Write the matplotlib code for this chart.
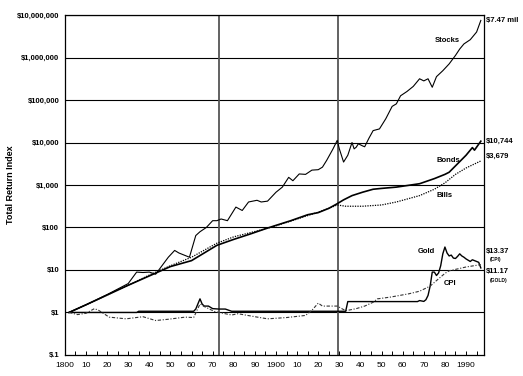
import numpy as np
import matplotlib.pyplot as plt

plt.rcParams['font.family'] = ['Liberation Sans', 'DejaVu Sans']
plt.rcParams['text.parse_math'] = False

# values, as log10 of the index ($1 in 1802)
stock_years = [1802, 1810, 1815, 1820, 1825, 1830, 1834, 1837, 1840, 1843, 1846, 1849,
               1852, 1854, 1857, 1859, 1862, 1864, 1867, 1870, 1872, 1874, 1877, 1881,
               1884, 1887, 1891, 1893, 1896, 1900, 1903, 1906, 1908, 1911, 1914, 1917,
               1920, 1922, 1924, 1927, 1929, 1930, 1932, 1934, 1936, 1937, 1938, 1939,
               1941, 1942, 1944, 1946, 1949, 1952, 1955, 1957, 1959, 1962, 1965, 1968,
               1970, 1972, 1974, 1976, 1979, 1982, 1985, 1987, 1989, 1992, 1995, 1997]
stock_log = [0.0, 0.18, 0.3, 0.42, 0.55, 0.68, 0.95, 0.94, 0.95, 0.9, 1.1, 1.3,
             1.46, 1.4, 1.34, 1.3, 1.81, 1.9, 2.0, 2.16, 2.16, 2.2, 2.16, 2.48,
             2.4, 2.6, 2.64, 2.6, 2.62, 2.83, 2.95, 3.18, 3.1, 3.26, 3.25, 3.35,
             3.36, 3.42, 3.58, 3.85, 4.05, 3.85, 3.54, 3.7, 4.0, 3.85, 3.89, 3.97,
             3.92, 3.9, 4.1, 4.28, 4.32, 4.56, 4.85, 4.91, 5.1, 5.2, 5.32, 5.5,
             5.45, 5.5, 5.3, 5.55, 5.69, 5.85, 6.05, 6.2, 6.32, 6.42, 6.6, 6.873]

bond_years = [1802, 1810, 1820, 1830, 1840, 1850, 1860, 1872, 1880, 1888, 1895, 1900,
              1907, 1915, 1920, 1925, 1929, 1932, 1936, 1941, 1946, 1950, 1957, 1968,
              1975, 1980, 1982, 1985, 1990, 1993, 1994, 1997]
bond_log = [0.0, 0.18, 0.41, 0.64, 0.86, 1.08, 1.22, 1.58, 1.72, 1.85, 1.97, 2.05,
            2.16, 2.3, 2.35, 2.45, 2.56, 2.65, 2.75, 2.83, 2.9, 2.92, 2.95, 3.03,
            3.15, 3.25, 3.3, 3.45, 3.7, 3.88, 3.82, 4.031]

bill_years = [1802, 1810, 1820, 1830, 1840, 1850, 1860, 1872, 1880, 1888, 1895, 1900,
              1907, 1915, 1920, 1925, 1929, 1933, 1941, 1950, 1957, 1968, 1975, 1980,
              1985, 1990, 1997]
bill_log = [0.0, 0.18, 0.41, 0.64, 0.88, 1.1, 1.3, 1.63, 1.78, 1.88, 1.97, 2.04,
            2.15, 2.28, 2.36, 2.45, 2.53, 2.5, 2.5, 2.53, 2.6, 2.75, 2.9, 3.05,
            3.25, 3.4, 3.566]

gold_years = [1802, 1834, 1835, 1861, 1862, 1863, 1864, 1865, 1866, 1868, 1870, 1873,
              1876, 1879, 1933, 1934, 1967, 1968, 1970, 1971, 1972, 1973, 1974, 1975,
              1976, 1977, 1978, 1979, 1980, 1981, 1982, 1983, 1984, 1985, 1986, 1987,
              1988, 1989, 1990, 1991, 1992, 1993, 1994, 1995, 1996, 1997]
gold_log = [0.0, 0.0, 0.028, 0.028, 0.08, 0.2, 0.32, 0.2, 0.15, 0.15, 0.09, 0.08,
            0.08, 0.028, 0.028, 0.256, 0.256, 0.28, 0.26, 0.3, 0.4, 0.62, 0.95, 0.95,
            0.87, 0.93, 1.1, 1.38, 1.54, 1.4, 1.33, 1.35, 1.28, 1.27, 1.32, 1.38,
            1.33, 1.3, 1.26, 1.23, 1.2, 1.24, 1.22, 1.2, 1.18, 1.048]

cpi_years = [1802, 1806, 1810, 1814, 1816, 1821, 1829, 1837, 1843, 1849, 1857, 1861,
             1864, 1866, 1871, 1879, 1882, 1890, 1896, 1905, 1914, 1917, 1920, 1922,
             1929, 1933, 1938, 1942, 1946, 1948, 1954, 1963, 1968, 1973, 1976, 1980,
             1982, 1990, 1997]
cpi_log = [0.0, -0.05, -0.02, 0.09, 0.05, -0.11, -0.15, -0.1, -0.19, -0.16, -0.11, -0.12,
           0.2, 0.14, 0.02, -0.06, -0.03, -0.1, -0.15, -0.12, -0.07, 0.05, 0.22, 0.15,
           0.15, 0.04, 0.09, 0.15, 0.24, 0.32, 0.36, 0.44, 0.5, 0.62, 0.75, 0.92,
           0.98, 1.07, 1.126]

y_ticks = [0.1, 1, 10, 100, 1e3, 1e4, 1e5, 1e6, 1e7]
y_labels = ['$.1', '$1', '$10', '$100', '$1,000', '$10,000', '$100,000',
            '$1,000,000', '$10,000,000']
x_ticks = list(range(1800, 2000, 10))
x_labels = ['1800', '10', '20', '30', '40', '50', '60', '70', '80', '90',
            '1900', '10', '20', '30', '40', '50', '60', '70', '80', '1990']
period_lines = [1873, 1929.5]


def main():
    fig = plt.figure(figsize=(5.23, 3.76), dpi=100)
    ax = fig.add_axes([0.124, 0.056, 0.801, 0.904])

    ax.set_yscale('log')
    ax.set_ylim(0.1, 1e7)
    ax.set_xlim(1800, 1998.4)

    for v in y_ticks[1:]:
        ax.axhline(v, color='black', lw=0.8, zorder=1)
    for yr in period_lines:
        ax.axvline(yr, color='#555555', lw=1.3, zorder=1)

    ax.plot(stock_years, 10 ** np.array(stock_log), color='black', lw=0.8, zorder=3)
    ax.plot(bond_years, 10 ** np.array(bond_log), color='black', lw=1.2, zorder=3)
    ax.plot(bill_years, 10 ** np.array(bill_log), color='black', lw=0.9,
            linestyle=(0, (1, 1)), zorder=3)
    ax.plot(gold_years, 10 ** np.array(gold_log), color='black', lw=1.0, zorder=3)
    ax.plot(cpi_years, 10 ** np.array(cpi_log), color='#333333', lw=0.8,
            linestyle=(0, (3, 1.5, 1, 1.5)), zorder=3)

    ax.set_yticks(y_ticks)
    ax.set_yticklabels(y_labels, fontsize=5.5, fontweight='bold')
    ax.yaxis.set_minor_locator(plt.NullLocator())
    ax.set_xticks(x_ticks)
    ax.set_xticklabels(x_labels, fontsize=6)
    ax.set_xticks(list(range(1805, 2000, 10)), minor=True)
    ax.tick_params(axis='x', which='both', direction='in', length=3, width=0.7, pad=5)
    ax.tick_params(axis='y', length=0, pad=4)
    ax.set_ylabel('Total Return Index', fontsize=6.5, fontweight='bold')
    ax.yaxis.set_label_coords(-0.12, 0.5)

    for side in ['left', 'right', 'bottom', 'top']:
        ax.spines[side].set_linewidth(0.9)

    kw = dict(fontsize=5.5, fontweight='bold', clip_on=False)
    ax.text(1981, 10 ** 6.4, 'Stocks', ha='center', va='center', **kw)
    ax.text(1981.4, 10 ** 3.58, 'Bonds', ha='center', va='center', **kw)
    ax.text(1980, 10 ** 2.75, 'Bills', ha='center', va='center', **kw)
    ax.text(1971.4, 10 ** 1.44, 'Gold', ha='center', va='center', **kw)
    ax.text(1982.3, 10 ** 0.68, 'CPI', ha='center', va='center', **kw)

    ax.text(1999.3, 10 ** 6.87, '$7.47 mil', ha='left', va='center', **kw)
    ax.text(1999.3, 10 ** 4.02, '$10,744', ha='left', va='center', **kw)
    ax.text(1999.3, 10 ** 3.67, '$3,679', ha='left', va='center', **kw)
    ax.text(1999.3, 10 ** 1.43, '$13.37', ha='left', va='center', **kw)
    ax.text(2001, 10 ** 1.25, '(CPI)', ha='left', va='center', fontsize=3.5,
            fontweight='bold', clip_on=False)
    ax.text(1999.3, 10 ** 0.96, '$11.17', ha='left', va='center', **kw)
    ax.text(2001, 10 ** 0.76, '(GOLD)', ha='left', va='center', fontsize=3.5,
            fontweight='bold', clip_on=False)

    fig.savefig('out.png', dpi=100)


if __name__ == '__main__':
    main()
